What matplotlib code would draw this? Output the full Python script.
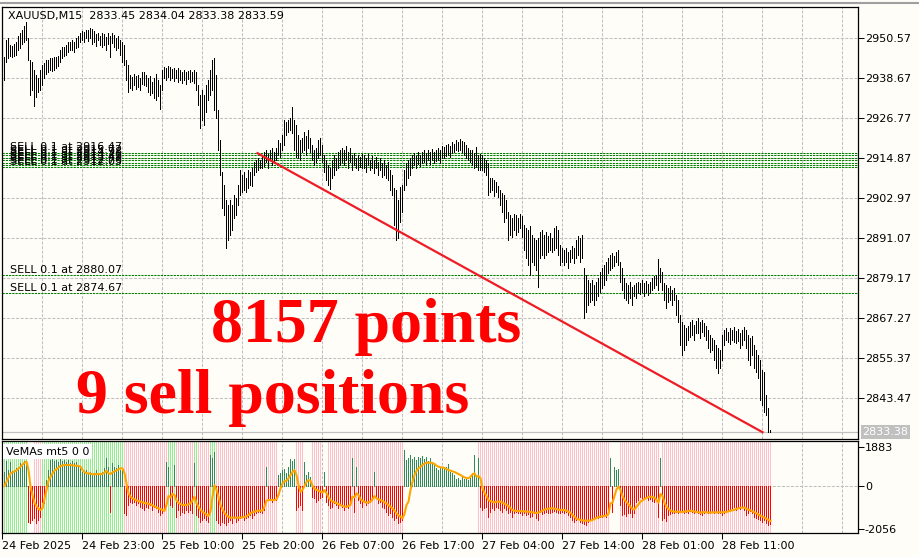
import numpy as np
import matplotlib.pyplot as plt
from matplotlib.transforms import blended_transform_factory

# chart header and annotations
header = "XAUUSD,M15  2833.45 2834.04 2833.38 2833.59"
big_text_1 = "8157 points"
big_text_2 = "9 sell positions"
indicator_name = "VeMAs mt5 0 0"

# M15 bars, high / low per bar (24 Feb 13:00 .. 28 Feb ~17:00)
high = [
    2944.9, 2950.0, 2950.6, 2948.5, 2948.2, 2948.8, 2949.4, 2951.2, 2952.1, 2953.0,
    2954.1, 2955.3, 2950.6, 2944.0, 2943.4, 2941.0, 2939.6, 2938.7, 2941.0, 2942.5,
    2943.1, 2944.0, 2944.0, 2944.6, 2944.6, 2944.9, 2944.9, 2945.2, 2947.0, 2947.9,
    2947.9, 2948.5, 2949.4, 2949.4, 2950.0, 2949.4, 2950.6, 2951.2, 2952.1, 2952.7,
    2952.4, 2953.0, 2953.0, 2953.5, 2953.2, 2952.7, 2951.8, 2952.1, 2951.2, 2952.1,
    2951.8, 2950.9, 2952.1, 2951.2, 2952.1, 2951.5, 2950.6, 2951.2, 2950.0, 2949.4,
    2948.5, 2944.0, 2942.5, 2939.6, 2939.0, 2939.9, 2939.3, 2939.6, 2938.7, 2940.5,
    2940.5, 2939.6, 2938.7, 2939.3, 2937.5, 2938.7, 2939.9, 2938.1, 2936.6, 2941.0,
    2941.9, 2941.6, 2942.2, 2941.9, 2941.3, 2941.6, 2941.0, 2941.6, 2941.0, 2940.5,
    2941.0, 2940.5, 2940.7, 2941.0, 2940.5, 2941.0, 2940.5, 2936.6, 2933.6, 2935.1,
    2933.6, 2936.6, 2938.1, 2941.0, 2944.0, 2944.6, 2939.6, 2929.2, 2920.2, 2910.7,
    2906.8, 2902.4, 2900.9, 2902.4, 2900.9, 2903.9, 2903.0, 2906.8, 2911.3, 2909.8,
    2910.7, 2908.9, 2911.3, 2910.7, 2911.9, 2913.7, 2914.3, 2914.9, 2914.3, 2915.5,
    2916.7, 2917.2, 2916.1, 2917.2, 2917.8, 2916.7, 2917.8, 2920.2, 2919.3, 2921.7,
    2926.2, 2925.6, 2926.2, 2926.8, 2930.0, 2926.2, 2924.7, 2921.7, 2920.2, 2920.8,
    2922.6, 2921.4, 2923.2, 2920.8, 2918.7, 2917.2, 2917.8, 2920.2, 2920.8, 2918.7,
    2915.8, 2914.3, 2912.8, 2911.9, 2914.3, 2915.8, 2914.9, 2916.7, 2917.2, 2917.8,
    2917.2, 2918.4, 2916.7, 2917.8, 2915.8, 2916.4, 2914.9, 2915.8, 2915.2, 2916.1,
    2915.8, 2914.9, 2916.1, 2914.3, 2915.5, 2914.3, 2915.2, 2913.7, 2914.9, 2913.4,
    2914.3, 2912.8, 2913.7, 2911.3, 2909.8, 2905.9, 2905.3, 2902.4, 2906.2, 2906.8,
    2911.3, 2913.4, 2914.3, 2914.9, 2915.8, 2916.4, 2915.5, 2916.7, 2915.8, 2916.7,
    2917.2, 2916.4, 2917.2, 2916.7, 2917.5, 2916.7, 2917.2, 2917.8, 2917.2, 2918.4,
    2918.1, 2918.7, 2919.0, 2918.4, 2919.6, 2919.0, 2920.2, 2919.6, 2920.5, 2919.9,
    2919.6, 2918.7, 2917.8, 2917.2, 2917.2, 2916.4, 2918.1, 2915.8, 2916.1, 2915.8,
    2914.9, 2914.3, 2913.4, 2908.9, 2908.9, 2908.3, 2907.7, 2906.5, 2905.3, 2904.4,
    2903.9, 2902.4, 2898.8, 2897.9, 2897.0, 2898.2, 2897.9, 2897.0, 2898.2, 2897.6,
    2894.9, 2894.0, 2893.5, 2894.6, 2891.9, 2891.1, 2890.5, 2891.1, 2892.9, 2893.5,
    2891.9, 2892.9, 2891.7, 2892.6, 2891.1, 2894.0, 2894.6, 2893.5, 2889.0, 2888.1,
    2887.5, 2888.1, 2886.9, 2887.5, 2888.7, 2888.1, 2890.5, 2891.7, 2891.1, 2892.0,
    2882.2, 2880.1, 2878.6, 2877.7, 2878.6, 2877.1, 2878.0, 2879.2, 2881.0, 2882.2,
    2883.0, 2883.9, 2885.1, 2886.0, 2886.6, 2885.7, 2886.9, 2887.5, 2883.9, 2882.2,
    2879.2, 2877.7, 2877.1, 2878.0, 2876.5, 2877.1, 2877.7, 2878.0, 2877.7, 2878.6,
    2877.7, 2878.3, 2877.4, 2878.0, 2879.2, 2879.8, 2880.1, 2884.8, 2882.2, 2881.0,
    2877.7, 2877.1, 2876.2, 2876.8, 2875.6, 2876.2, 2874.1, 2872.6, 2868.1, 2866.1,
    2865.2, 2864.3, 2864.9, 2866.1, 2866.7, 2865.2, 2866.4, 2867.3, 2866.1, 2866.7,
    2865.8, 2864.9, 2863.7, 2862.2, 2861.3, 2860.7, 2859.2, 2858.3, 2857.7, 2862.2,
    2863.7, 2864.3, 2863.1, 2864.3, 2863.7, 2864.6, 2863.4, 2864.0, 2862.8, 2863.7,
    2864.6, 2863.7, 2862.2, 2861.3, 2861.9, 2859.2, 2857.7, 2856.2, 2854.8, 2851.8,
    2851.2, 2844.4, 2840.5, 2834.04,
]
low = [
    2938.1, 2943.4, 2944.6, 2945.2, 2944.9, 2945.2, 2945.5, 2947.0, 2947.6, 2948.8,
    2949.4, 2950.0, 2944.0, 2933.6, 2935.1, 2930.3, 2933.0, 2934.5, 2935.1, 2936.6,
    2938.7, 2939.9, 2940.5, 2941.0, 2940.7, 2941.0, 2941.6, 2942.2, 2943.4, 2944.6,
    2945.2, 2945.5, 2946.4, 2947.0, 2947.0, 2946.4, 2947.6, 2947.9, 2949.4, 2950.0,
    2949.4, 2950.6, 2949.7, 2950.6, 2948.8, 2949.4, 2948.2, 2950.0, 2948.5, 2947.9,
    2948.5, 2947.0, 2948.8, 2944.9, 2949.1, 2947.9, 2947.0, 2947.6, 2945.5, 2943.4,
    2942.5, 2938.1, 2934.5, 2935.7, 2935.1, 2936.6, 2935.4, 2936.0, 2935.1, 2936.9,
    2936.6, 2936.3, 2934.5, 2933.6, 2934.2, 2932.7, 2932.1, 2933.3, 2929.4, 2935.1,
    2938.7, 2938.1, 2939.0, 2938.1, 2938.7, 2937.8, 2938.7, 2937.5, 2938.1, 2937.2,
    2938.1, 2936.9, 2938.4, 2937.5, 2937.8, 2937.2, 2935.1, 2930.6, 2923.8, 2926.2,
    2924.7, 2928.5, 2932.1, 2933.6, 2935.1, 2929.2, 2926.8, 2917.2, 2909.8, 2900.0,
    2897.9, 2888.1, 2890.5, 2891.9, 2893.5, 2897.0, 2897.9, 2900.9, 2903.9, 2904.8,
    2905.3, 2904.8, 2905.9, 2906.8, 2906.5, 2909.8, 2910.7, 2911.3, 2911.9, 2911.9,
    2912.5, 2913.7, 2911.9, 2914.3, 2912.8, 2913.7, 2914.3, 2915.8, 2915.2, 2917.2,
    2918.7, 2921.7, 2922.6, 2923.2, 2922.3, 2917.2, 2915.2, 2914.9, 2914.3, 2916.7,
    2917.2, 2915.8, 2917.8, 2916.7, 2914.3, 2912.8, 2913.7, 2914.9, 2915.8, 2913.7,
    2910.7, 2908.3, 2906.8, 2905.6, 2908.9, 2909.8, 2911.3, 2911.9, 2912.8, 2913.7,
    2912.8, 2914.3, 2911.9, 2913.7, 2911.3, 2912.8, 2911.9, 2911.3, 2912.2, 2911.9,
    2911.9, 2910.7, 2912.8, 2911.3, 2911.9, 2910.4, 2911.9, 2909.8, 2911.3, 2909.2,
    2909.8, 2908.9, 2908.3, 2905.3, 2903.9, 2894.9, 2890.5, 2891.1, 2895.8, 2898.8,
    2905.3, 2906.8, 2908.9, 2909.8, 2911.9, 2912.8, 2911.9, 2913.1, 2912.5, 2913.4,
    2913.7, 2912.8, 2914.3, 2913.1, 2914.3, 2913.4, 2914.0, 2914.3, 2913.4, 2914.9,
    2914.9, 2915.5, 2915.8, 2915.2, 2916.4, 2916.7, 2917.2, 2916.9, 2917.2, 2916.7,
    2915.8, 2914.9, 2914.3, 2913.7, 2912.8, 2911.9, 2912.2, 2911.3, 2911.3, 2911.3,
    2910.7, 2909.8, 2903.9, 2904.8, 2905.3, 2903.6, 2904.8, 2903.3, 2900.9, 2898.8,
    2895.8, 2897.0, 2890.5, 2892.0, 2891.4, 2893.5, 2892.0, 2892.9, 2894.1, 2891.4,
    2887.5, 2885.1, 2883.0, 2880.1, 2884.0, 2883.0, 2881.6, 2876.5, 2885.1, 2886.0,
    2885.1, 2886.0, 2886.9, 2887.5, 2886.9, 2887.5, 2888.1, 2886.0, 2883.0, 2883.9,
    2883.0, 2883.9, 2882.2, 2883.9, 2885.1, 2883.6, 2885.1, 2886.0, 2883.9, 2885.1,
    2867.3, 2869.0, 2871.1, 2872.0, 2872.6, 2871.1, 2872.6, 2873.8, 2875.0, 2876.2,
    2877.1, 2878.6, 2880.7, 2881.6, 2882.2, 2882.8, 2883.9, 2883.0, 2877.9, 2875.6,
    2873.2, 2872.6, 2871.7, 2873.2, 2871.1, 2873.8, 2873.2, 2874.7, 2874.4, 2875.0,
    2873.8, 2875.0, 2874.1, 2874.7, 2875.6, 2876.2, 2877.1, 2875.6, 2878.0, 2875.6,
    2872.6, 2870.2, 2872.0, 2872.6, 2871.1, 2872.6, 2868.1, 2866.1, 2859.2, 2856.2,
    2857.7, 2859.2, 2860.7, 2861.6, 2862.2, 2860.7, 2862.8, 2862.8, 2861.3, 2863.1,
    2861.9, 2860.7, 2858.3, 2857.1, 2857.7, 2854.8, 2852.4, 2850.9, 2852.4, 2854.8,
    2859.2, 2860.7, 2860.1, 2859.5, 2860.7, 2860.1, 2859.8, 2860.4, 2858.3, 2859.2,
    2860.7, 2858.3, 2854.8, 2853.3, 2856.2, 2852.4, 2851.2, 2849.4, 2842.9, 2841.4,
    2839.3, 2838.4, 2833.5, 2833.38,
]

# VeMAs indicator: histogram and its moving average, one value per bar
hist = [
    690, 1220, 770, 1175, 740, 770, 850, 930, 1095, 1015,
    1220, 1175, -1720, -1800, -1640, -1560, -1800, -1640, -1480, -760,
    -840, 290, 770, 1255, 1290, 1220, 1255, 1175, 1290, 1220,
    1255, 1175, 1255, 1125, 1220, 1095, 1175, 1015, 930, 690,
    610, 770, 610, 690, 530, 610, 770, 530, 610, 690,
    850, 1335, 930, -1240, 1095, 930, 850, 1015, 770, 850,
    -1320, -1400, -920, -760, -840, -760, -920, -840, -1000, -1080,
    -1160, -1000, -1080, -920, -1160, -1000, -1080, -1240, -1400, -1320,
    -1160, 1175, 930, -920, -1000, 1015, -1480, -1160, -1400, -1240,
    -1320, -1160, -1240, -1160, -1320, 1095, -1400, -1480, -1720, -1640,
    -1560, -1640, -1720, 1500, 1335, 1660, -1640, -1800, -1880, -1720,
    -1800, -1880, -1720, -1640, -1800, -1560, -1720, -1640, -1560, -1480,
    -1640, -1560, -1480, -1400, -1560, -1400, -1320, -1240, -1240, -1290,
    -1160, 930, -600, -680, -760, -600, -680, 530, 610, 770,
    800, 610, 930, 1290, 1220, 1290, -1160, -1000, -920, -1160,
    1175, 530, 690, 450, -515, -600, -760, -680, -600, -515,
    690, -760, -920, -1080, -1000, -840, -920, -1080, -920, -1000,
    -1160, -1000, -1080, -920, 1335, -1240, 930, -680, -840, -1000,
    -760, -920, -840, -760, -680, 690, -600, -840, -760, -1000,
    -1080, -1240, -1400, -1320, -1480, -1640, -1560, -1800, -1720, -1640,
    1740, 1255, 1335, 1500, 1290, 1415, 1255, 1385, 1335, 1450,
    1290, 1385, 1220, 1335, 1175, 1015, 850, 770, 930, 850,
    800, 900, 1060, 690, 610, 530, 320, 370, 290, 450,
    320, 420, 290, 370, 610, 1500, 530, 1335, -1000, -1160,
    -1080, -1000, -1480, -1240, -1080, -1160, -1000, -1080, -1160, -1240,
    -1080, -1160, -1320, -1240, -1480, -1320, -1240, -1290, -1320, -1400,
    -1320, -1400, -1350, -1480, -1450, -1320, -1560, -1640, -1240, -1350,
    -1290, -1240, -1320, -1290, -1240, -1190, -1240, -1320, -1290, -1240,
    -1320, -1240, -1400, -1480, -1640, -1720, -1640, -1560, -1720, -1800,
    -1840, -1880, -1720, -1640, -1560, -1610, -1510, -1560, -1480, -1510,
    -1450, -1480, -1240, 1335, -1240, 930, 770, 820, -920, -1400,
    -1350, -1450, -1320, -1290, -1510, -1320, -760, -680, -550, -600,
    -515, -550, -680, -640, -710, -760, -680, -1480, 1335, -1640,
    -1560, -1670, -1400, -1350, -1290, -1320, -1240, -1290, -1190, -1260,
    -1320, -1240, -1290, -1190, -1260, -1320, -1240, -1290, -1350, -1400,
    -1290, -1240, -1320, -1290, -1240, -1290, -1240, -1320, -1290, -1400,
    -1290, -1240, -1190, -1160, -1080, -1000, -1160, -1080, -1125, -1000,
    -1160, -1400, -1290, -1190, -1320, -1480, -1560, -1610, -1640, -1720,
    -1640, -1800, -1880, -1840,
]
ma = [
    0, 209, 403, 612, 660, 708, 757, 837, 934, 1030,
    1127, 1175, 773, -32, -435, -805, -966, -1095, -1159, -1079,
    -644, -193, 258, 451, 612, 741, 821, 886, 966, 998,
    1014, 1014, 1014, 1014, 998, 982, 982, 966, 934, 773,
    676, 612, 612, 596, 564, 564, 580, 580, 564, 596,
    644, 741, 612, 580, 660, 708, 757, 805, 853, 853,
    612, 129, -354, -515, -596, -644, -692, -725, -757, -789,
    -821, -837, -853, -886, -934, -982, -1030, -1079, -1111, -1159,
    -1208, -918, -483, -547, -386, -435, -708, -805, -869, -918,
    -918, -918, -886, -837, -708, -515, -837, -998, -1159, -1240,
    -1304, -1385, -1449, -1240, -515, 48, -193, -515, -918, -1127,
    -1288, -1417, -1481, -1530, -1530, -1530, -1530, -1530, -1530, -1513,
    -1497, -1465, -1401, -1320, -1272, -1240, -1208, -1191, -1191, -1191,
    -998, -708, -676, -676, -676, -676, -644, -435, -113, 129,
    225, 258, 370, 531, 676, 773, 531, 48, -274, -193,
    0, 193, 290, 258, 16, -129, -177, -225, -274, -322,
    -193, -354, -547, -676, -741, -789, -821, -869, -918, -966,
    -998, -998, -966, -918, -515, -547, -354, -435, -644, -708,
    -773, -805, -789, -757, -644, -483, -596, -644, -676, -725,
    -789, -837, -918, -998, -1079, -1191, -1320, -1417, -1481, -1562,
    -1352, -918, -757, -193, 209, 531, 725, 853, 934, 1014,
    1079, 1127, 1127, 1127, 1111, 1063, 982, 934, 902, 902,
    869, 821, 773, 741, 708, 676, 628, 580, 531, 467,
    419, 386, 370, 451, 564, 612, 451, 483, 370, -113,
    -322, -483, -676, -725, -773, -789, -757, -757, -757, -805,
    -853, -902, -966, -1079, -1159, -1191, -1208, -1208, -1208, -1224,
    -1224, -1240, -1240, -1256, -1272, -1288, -1304, -1288, -1240, -1191,
    -1143, -1111, -1095, -1079, -1079, -1095, -1111, -1143, -1159, -1159,
    -1159, -1191, -1240, -1288, -1401, -1481, -1578, -1610, -1642, -1658,
    -1674, -1674, -1674, -1674, -1642, -1594, -1530, -1513, -1481, -1465,
    -1449, -1433, -1352, -837, -805, -483, -161, -32, -193, -483,
    -676, -773, -886, -998, -1111, -1127, -998, -886, -757, -692,
    -628, -580, -531, -515, -531, -564, -676, -805, -386, -483,
    -805, -998, -1111, -1191, -1224, -1240, -1240, -1240, -1256, -1256,
    -1240, -1224, -1208, -1191, -1208, -1240, -1256, -1272, -1288, -1272,
    -1256, -1272, -1288, -1288, -1272, -1272, -1272, -1272, -1272, -1272,
    -1256, -1256, -1224, -1191, -1175, -1143, -1111, -1079, -1047, -1047,
    -1047, -1095, -1143, -1175, -1224, -1272, -1320, -1369, -1433, -1481,
    -1530, -1578, -1642, -1690,
]

# background colour of the indicator per bar, as (colour, number of bars)
bg_runs = [("g", 12), ("n", 3), ("p", 4), ("g", 41), ("p", 22), ("g", 4), ("p", 9),
           ("g", 2), ("p", 6), ("g", 3), ("p", 31), ("n", 9), ("p", 4), ("n", 4),
           ("p", 5), ("n", 3), ("p", 38), ("n", 37), ("p", 66), ("n", 5), ("p", 20),
           ("n", 1), ("p", 55)]

# open sell positions
sell_prices = [2916.47, 2915.72, 2914.98, 2914.21, 2913.49, 2912.76, 2912.05, 2880.07, 2874.67]
bid = 2833.38

# trend line drawn on the chart (bar index, price)
trend_bars = [126.5, 379]
trend_prices = [2916.3, 2833.3]

price_ticks = [2950.57, 2938.67, 2926.77, 2914.87, 2902.97, 2891.07, 2879.17, 2867.27, 2855.37, 2843.47]
ind_ticks = [1883, 0, -2056]
date_labels = ["24 Feb 2025", "24 Feb 23:00", "25 Feb 10:00", "25 Feb 20:00", "26 Feb 07:00",
               "26 Feb 17:00", "27 Feb 04:00", "27 Feb 14:00", "28 Feb 01:00", "28 Feb 11:00"]
date_bars = [-1.0, 39, 79, 119, 159, 199, 239, 279, 319, 359]

BG = "#fffdf8"
GRID = "#c0c0c0"
plt.rcParams["font.family"] = "DejaVu Sans"
plt.rcParams["font.size"] = 8

W, H = 920, 557
fig = plt.figure(figsize=(W / 100, H / 100), dpi=100, facecolor=BG)


def px_axes(left, top, right, bottom):
    return fig.add_axes([left / W, 1 - bottom / H, (right - left) / W, (bottom - top) / H])


ax = px_axes(2.5, 7, 858, 439)
axi = px_axes(2.5, 441, 858, 533)
fig.add_artist(plt.Line2D([0, 1], [1 - 3.3 / H] * 2, color="#a0a0a0", lw=1.5))

n = np.arange(len(high))
grid_bars = np.arange(19, 427, 20)
XLIM = (-1.0, 426.75)   # 2 px per bar, bars land on pixel centres
BAR_LW = 0.72

# ---- price window ----
ax.set_facecolor(BG)
ax.set_xlim(*XLIM)
ax.set_ylim(2831.27, 2959.79)
for g in grid_bars:
    ax.axvline(g, color=GRID, lw=0.75, ls=(0, (2.9, 1.45)), zorder=0)
for p in price_ticks:
    ax.axhline(p, color=GRID, lw=0.75, ls=(0, (2.9, 1.45)), zorder=0)

ax.axhline(bid, color=GRID, lw=0.9, zorder=1)
for p in sell_prices:
    ax.axhline(p, color="#008000", lw=0.75, ls=(0, (2.2, 0.9)), zorder=1)
    ax.annotate("SELL 0.1 at %.2f" % p, (3, p), xytext=(0, 1.6), textcoords="offset points",
                va="baseline", ha="left", fontsize=8, color="black", zorder=2)

ax.vlines(n, low, high, colors="black", linewidth=BAR_LW, antialiased=False, zorder=3)
ax.plot(trend_bars, trend_prices, color="#ee1c25", lw=1.6, zorder=4)

ax.text(103.5, 2860.1, big_text_1, color="#ff0000", fontsize=46, fontweight="bold",
        family="Liberation Serif", va="baseline", ha="left", zorder=5)
ax.text(36, 2839.0, big_text_2, color="#ff0000", fontsize=46, fontweight="bold",
        family="Liberation Serif", va="baseline", ha="left", zorder=5)

ax.text(0.0064, 0.979, header, transform=ax.transAxes, va="center", ha="left", fontsize=8)

ax.set_xticks([])
ax.yaxis.tick_right()
ax.set_yticks(price_ticks)
ax.set_yticklabels(["%.2f" % p for p in price_ticks])
ax.tick_params(axis="y", length=4, width=0.75, pad=1, labelsize=8, direction="out")
tr = blended_transform_factory(ax.transAxes, ax.transData)
ax.text(1.005, bid, "%.2f" % bid, transform=tr, color="white", fontsize=8, va="center", ha="left",
        bbox=dict(boxstyle="square,pad=0.15", fc=GRID, ec="none"))

# ---- indicator window ----
axi.set_facecolor(BG)
axi.set_xlim(*XLIM)
axi.set_ylim(-2270, 2174)
for g in grid_bars:
    axi.axvline(g, color=GRID, lw=0.75, ls=(0, (2.9, 1.45)), zorder=0)
axi.axhline(0, color=GRID, lw=0.75, ls=(0, (2.9, 1.45)), zorder=0)

bg_cols = []
for c, cnt in bg_runs:
    bg_cols += [c] * cnt
bg_cols = np.array(bg_cols)
axi.vlines(n[bg_cols == "g"], -2270, 2174, colors="#90ee90", linewidth=BAR_LW, antialiased=False, zorder=1)
axi.vlines(n[bg_cols == "p"], -2270, 2174, colors="#ffc0cb", linewidth=BAR_LW, antialiased=False, zorder=1)

h = np.array(hist)
axi.vlines(n[h > 0], 0, h[h > 0], colors="#2e8b57", linewidth=BAR_LW, antialiased=False, zorder=2)
axi.vlines(n[h < 0], 0, h[h < 0], colors="#ff0000", linewidth=BAR_LW, antialiased=False, zorder=2)
axi.plot(n, ma, color="#ffa500", lw=1.5, zorder=3)

axi.text(0.004, 0.885, indicator_name, transform=axi.transAxes, va="center", ha="left", fontsize=8,
         bbox=dict(boxstyle="square,pad=0.25", fc="white", ec="none"), zorder=4)

axi.yaxis.tick_right()
axi.set_yticks(ind_ticks)
axi.set_yticklabels([str(v) for v in ind_ticks])
axi.tick_params(axis="y", length=4, width=0.75, pad=1, labelsize=8, direction="out")
axi.set_xticks(date_bars)
axi.set_xticklabels(date_labels, ha="left")
axi.tick_params(axis="x", length=4, width=0.75, pad=2, labelsize=8, direction="out")

for a in (ax, axi):
    for s in a.spines.values():
        s.set_color("black")
        s.set_linewidth(0.9)

fig.savefig("out.png", dpi=100, facecolor=BG)
